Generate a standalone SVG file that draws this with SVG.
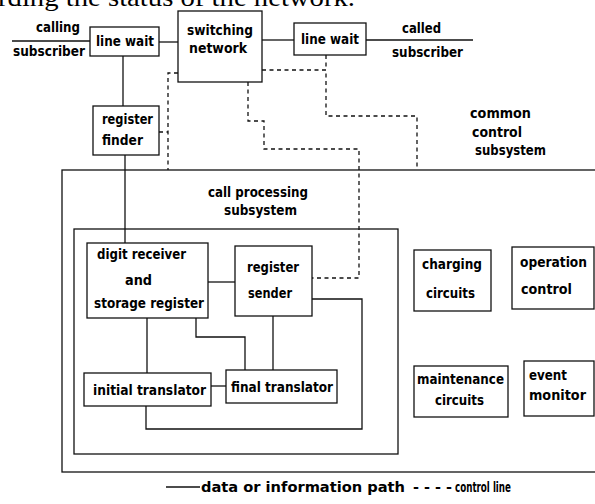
<svg xmlns="http://www.w3.org/2000/svg" width="595" height="504" viewBox="0 0 595 504">
  <style>
    .box{fill:#fff;stroke:#111;stroke-width:1.3}
    .frame{fill:none;stroke:#111;stroke-width:1.3}
    .wire{fill:none;stroke:#111;stroke-width:1.3}
    .ctl{fill:none;stroke:#111;stroke-width:1.3;stroke-dasharray:4 3.5}
    text{font-family:"DejaVu Sans Condensed","Liberation Sans Narrow","Liberation Sans",sans-serif;font-weight:bold;font-size:14px;fill:#000}
    text.key{font-size:13.5px}
    text.cap{font-family:"Liberation Serif","Times New Roman",serif;font-weight:normal;font-size:26px}
  </style>
  <rect width="595" height="504" fill="#fff"/>

  <!-- running text above the figure -->
  <text class="cap" x="-2" y="6" textLength="357" lengthAdjust="spacingAndGlyphs">rding the status of the network.</text>

  <!-- subsystem frames -->
  <g id="common-control-subsystem">
    <rect class="frame" x="62" y="170" width="560" height="302"/>
    <text x="470" y="118" textLength="61" lengthAdjust="spacingAndGlyphs">common</text>
    <text x="472" y="137" textLength="50" lengthAdjust="spacingAndGlyphs">control</text>
    <text x="475" y="155" textLength="71" lengthAdjust="spacingAndGlyphs">subsystem</text>
  </g>
  <g id="call-processing-subsystem">
    <rect class="frame" x="74" y="229" width="324" height="225"/>
    <text x="208" y="197" textLength="100" lengthAdjust="spacingAndGlyphs">call processing</text>
    <text x="224" y="215" textLength="73" lengthAdjust="spacingAndGlyphs">subsystem</text>
  </g>

  <!-- connectors -->
  <g id="connectors">
    <!-- data / information paths -->
    <path class="wire" d="M12,41 H90"/>
    <path class="wire" d="M159,42 H178"/>
    <path class="wire" d="M262,40 H294"/>
    <path class="wire" d="M366,40 H473"/>
    <path class="wire" d="M123,56 V106"/>
    <path class="wire" d="M125,155 V243"/>
    <path class="wire" d="M208,282 H235"/>
    <path class="wire" d="M312,299 H362 V429 H146 V406"/>
    <path class="wire" d="M147,318 V373"/>
    <path class="wire" d="M196,318 V337 H245 V370"/>
    <path class="wire" d="M273,316 V370"/>
    <path class="wire" d="M211,386 H226"/>
    <!-- control lines -->
    <path class="ctl" d="M178,73 H168 V170"/>
    <path class="ctl" d="M159,132 H168"/>
    <path class="ctl" d="M262,70 H326 V116 H417 V170"/>
    <path class="ctl" d="M326,55 V70"/>
    <path class="ctl" d="M248,82 V121 H264 V149 H359 V278 H312"/>
  </g>

  <!-- subscriber labels -->
  <g id="calling-subscriber">
    <text x="36" y="32" textLength="44" lengthAdjust="spacingAndGlyphs">calling</text>
    <text x="13" y="56" textLength="72" lengthAdjust="spacingAndGlyphs">subscriber</text>
  </g>
  <g id="called-subscriber">
    <text x="402" y="33" textLength="39" lengthAdjust="spacingAndGlyphs">called</text>
    <text x="392" y="57" textLength="71" lengthAdjust="spacingAndGlyphs">subscriber</text>
  </g>

  <!-- nodes -->
  <g id="line-wait-calling">
    <rect class="box" x="90" y="27" width="69" height="29"/>
    <text x="96" y="46" textLength="58" lengthAdjust="spacingAndGlyphs">line wait</text>
  </g>
  <g id="switching-network">
    <rect class="box" x="178" y="11" width="84" height="71"/>
    <text x="187" y="35" textLength="66" lengthAdjust="spacingAndGlyphs">switching</text>
    <text x="189" y="53" textLength="58" lengthAdjust="spacingAndGlyphs">network</text>
  </g>
  <g id="line-wait-called">
    <rect class="box" x="294" y="23" width="72" height="32"/>
    <text x="301" y="44" textLength="58" lengthAdjust="spacingAndGlyphs">line wait</text>
  </g>
  <g id="register-finder">
    <rect class="box" x="93" y="106" width="66" height="49"/>
    <text x="102" y="124" textLength="51" lengthAdjust="spacingAndGlyphs">register</text>
    <text x="102" y="145" textLength="41" lengthAdjust="spacingAndGlyphs">finder</text>
  </g>
  <g id="digit-receiver">
    <rect class="box" x="87" y="243" width="121" height="75"/>
    <text x="97" y="259" textLength="89" lengthAdjust="spacingAndGlyphs">digit receiver</text>
    <text x="125" y="285" textLength="27" lengthAdjust="spacingAndGlyphs">and</text>
    <text x="94" y="308" textLength="110" lengthAdjust="spacingAndGlyphs">storage register</text>
  </g>
  <g id="register-sender">
    <rect class="box" x="235" y="246" width="77" height="70"/>
    <text x="247" y="272" textLength="52" lengthAdjust="spacingAndGlyphs">register</text>
    <text x="248" y="298" textLength="44" lengthAdjust="spacingAndGlyphs">sender</text>
  </g>
  <g id="initial-translator">
    <rect class="box" x="84" y="373" width="127" height="33"/>
    <text x="93" y="395" textLength="113" lengthAdjust="spacingAndGlyphs">initial translator</text>
  </g>
  <g id="final-translator">
    <rect class="box" x="226" y="370" width="111" height="33"/>
    <text x="231" y="392" textLength="102" lengthAdjust="spacingAndGlyphs">final translator</text>
  </g>
  <g id="charging-circuits">
    <rect class="box" x="414" y="250" width="77" height="61"/>
    <text x="422" y="269" textLength="60" lengthAdjust="spacingAndGlyphs">charging</text>
    <text x="426" y="298" textLength="49" lengthAdjust="spacingAndGlyphs">circuits</text>
  </g>
  <g id="operation-control">
    <rect class="box" x="512" y="247" width="82" height="62"/>
    <text x="520" y="267" textLength="67" lengthAdjust="spacingAndGlyphs">operation</text>
    <text x="521" y="294" textLength="51" lengthAdjust="spacingAndGlyphs">control</text>
  </g>
  <g id="maintenance-circuits">
    <rect class="box" x="414" y="366" width="94" height="51"/>
    <text x="417" y="384" textLength="87" lengthAdjust="spacingAndGlyphs">maintenance</text>
    <text x="435" y="405" textLength="49" lengthAdjust="spacingAndGlyphs">circuits</text>
  </g>
  <g id="event-monitor">
    <rect class="box" x="524" y="361" width="70" height="55"/>
    <text x="529" y="380" textLength="38" lengthAdjust="spacingAndGlyphs">event</text>
    <text x="529" y="400" textLength="57" lengthAdjust="spacingAndGlyphs">monitor</text>
  </g>

  <!-- legend -->
  <g id="legend">
    <path class="wire" d="M166,487 H200"/>
    <text class="key" x="201" y="492" textLength="204" lengthAdjust="spacingAndGlyphs">data or information path</text>
    <text class="key" x="413" y="492" textLength="39" lengthAdjust="spacingAndGlyphs">- - - -</text>
    <text class="key" x="455" y="492" textLength="56" lengthAdjust="spacingAndGlyphs">control line</text>
  </g>
</svg>
